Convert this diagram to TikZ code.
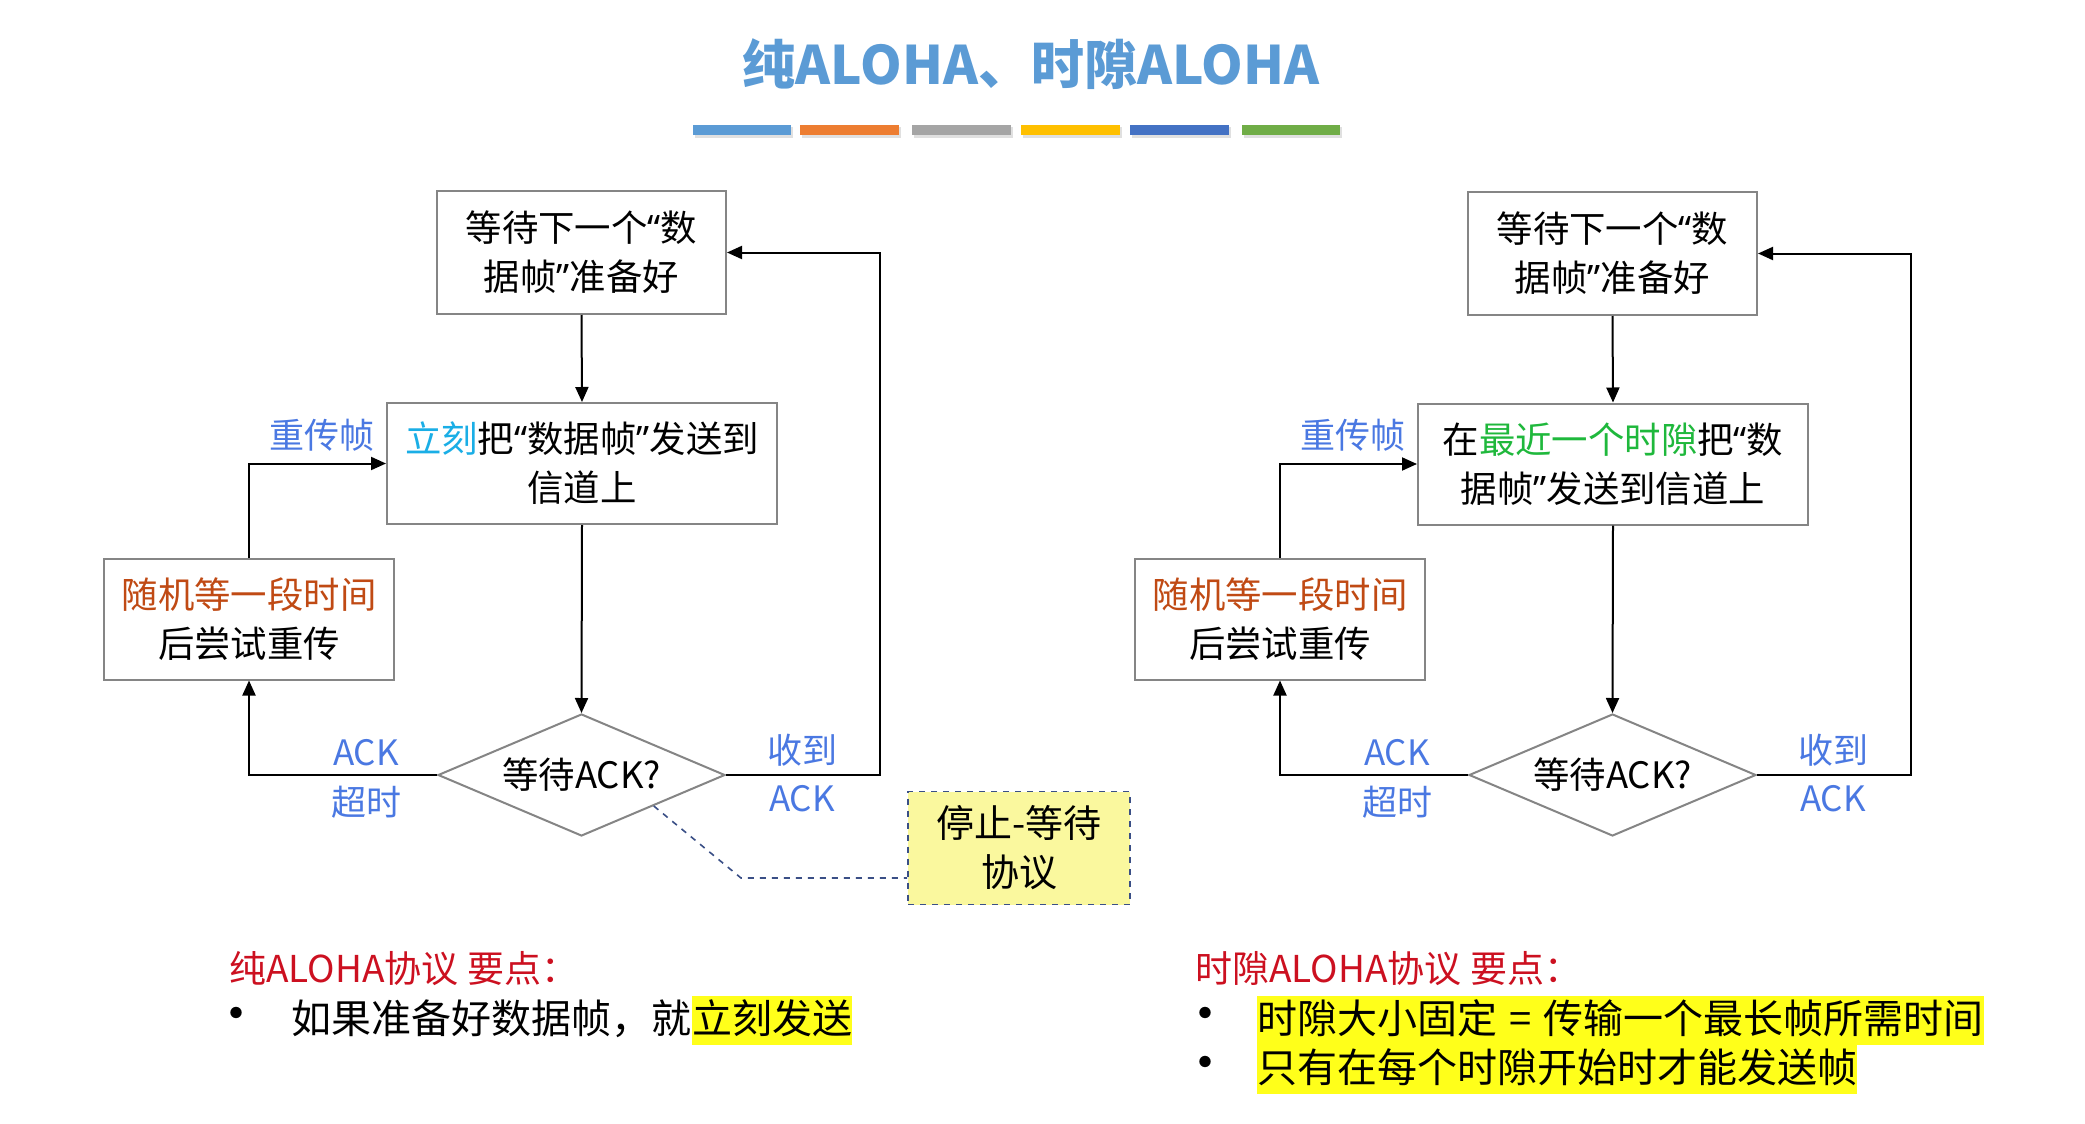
\documentclass[tikz,border=0pt]{standalone}
\usepackage{fontspec}
\setmainfont{Noto Sans CJK SC}
\newfontfamily\quotefont{Noto Sans}
\usetikzlibrary{shapes.geometric,arrows.meta}

\definecolor{titleblue}{HTML}{5B9BD5}
\definecolor{barorange}{HTML}{ED7D31}
\definecolor{bargray}{HTML}{A5A5A5}
\definecolor{baryellow}{HTML}{FFC000}
\definecolor{bardark}{HTML}{4472C4}
\definecolor{bargreen}{HTML}{70AD47}
\definecolor{lblblue}{HTML}{4A78E2}
\definecolor{nowcyan}{HTML}{1AAEE6}
\definecolor{waitred}{HTML}{C04A14}
\definecolor{slotgreen}{HTML}{1FB83C}
\definecolor{headred}{HTML}{CC1020}
\definecolor{boxgray}{HTML}{858585}
\definecolor{notefill}{HTML}{FAF89E}
\definecolor{noteedge}{HTML}{3A4F86}
\definecolor{markyellow}{HTML}{FFFF1A}

\newcommand\flowfont{\fontsize{18.2pt}{24.5pt}\selectfont}
\newcommand\lblfont{\fontsize{17.5pt}{24.5pt}\selectfont}
\newcommand\notefont{\fontsize{19pt}{24.5pt}\selectfont}
\newcommand\headfont{\fontsize{18.5pt}{22pt}\selectfont}
\newcommand\ptfont{\fontsize{20pt}{24pt}\selectfont}
% narrow curly quotes taken from a Latin face
\newcommand\oqt{{\quotefont “}}
\newcommand\cqt{{\quotefont ”}}

\tikzset{
  stepbox/.style={draw=boxgray, line width=1pt, fill=white, align=center,
    inner sep=0pt, font=\flowfont},
  waitbox/.style={stepbox, minimum width=144.5pt, minimum height=61.5pt},
  sendbox/.style={stepbox, minimum width=195pt, minimum height=60.5pt},
  retrybox/.style={stepbox, minimum width=145pt, minimum height=60.5pt},
  decide/.style={diamond, draw=boxgray, line width=1pt, fill=white,
    minimum width=143.5pt, minimum height=61pt, inner sep=0pt},
  flow/.style={draw=black, line width=1pt, -{Triangle[length=7.5pt,width=6.5pt]}},
  lbl/.style={text=lblblue, font=\lblfont, inner sep=0pt},
  note/.style={draw=noteedge, dashed, line width=0.9pt, fill=notefill,
    minimum width=111pt, minimum height=56.5pt, align=center, font=\notefont,
    inner sep=0pt},
  notelink/.style={draw=noteedge, dashed, line width=0.8pt},
  head/.style={text=headred, font=\headfont, inner sep=0pt, anchor=west},
  dot/.style={font=\fontsize{27pt}{27pt}\selectfont, inner sep=0pt},
  pt/.style={font=\ptfont, inner xsep=0pt, inner ysep=1.75pt,
    text height=17pt, text depth=4pt, anchor=west},
  hilite/.style={pt, fill=markyellow},
}

\begin{document}
\begin{tikzpicture}[x=0.5pt,y=-0.5pt]
\fill[white] (0,0) rectangle (2085,1124);
\useasboundingbox (0,0) rectangle (2085,1124);

% heading
\node[text=titleblue, font=\fontsize{26.5pt}{30pt}\selectfont\bfseries]
  (title) at (1031,64) {纯ALOHA、时隙ALOHA};

% coloured rule under the heading
\foreach \xa/\xb/\c in {693/791/titleblue, 800/899/barorange, 912/1011/bargray,
    1021/1120/baryellow, 1130/1229/bardark, 1242/1340/bargreen}{
  \fill[black!12] (\xa+2,127) rectangle (\xb+2,138);
  \fill[\c] (\xa,125) rectangle (\xb,135);
}

% ---------- pure ALOHA ----------
\node[waitbox] (la) at (581.5,252.5) {等待下一个\oqt 数\\据帧\cqt 准备好};
\node[sendbox] (lb) at (582,463.5) {\textcolor{nowcyan}{立刻}把\oqt 数据帧\cqt 发送到\\信道上};
\node[retrybox] (lc) at (249,619) {\textcolor{waitred}{随机等一段时间}\\后尝试重传};
\node[decide] (ld) at (581.5,775) {};
\node[font=\flowfont, inner sep=0pt] (ldt) at (ld.center) {等待ACK?};
\coordinate (lfb) at (880,0);

\draw[flow] (la.south) -- (lb.north);
\draw[flow] (lb.south) -- (ld.north);
\draw[flow] (ld.west) -| (lc.south);
\draw[flow] (lc.north) |- (lb.west);
\draw[flow] (ld.east) -- (ld.east -| lfb) |- (la.east);

\node[lbl] (lre) at (322,435) {重传帧};
\node[lbl] (lto1) at (366,753) {ACK};
\node[lbl] (lto2) at (366,802) {超时};
\node[lbl] (lok1) at (802,750) {收到};
\node[lbl] (lok2) at (802,799) {ACK};

\node[note] (lnote) at (1019,848) {停止-等待\\协议};
\coordinate (lknee) at (741,878);
\draw[notelink] (ld.south east) -- (lknee) -- (lknee -| lnote.west);

% ---------- slotted ALOHA ----------
\node[waitbox] (ra) at (1612.5,253.5) {等待下一个\oqt 数\\据帧\cqt 准备好};
\node[sendbox] (rb) at (1613,464) {在\textcolor{slotgreen}{最近一个时隙}把\oqt 数\\据帧\cqt 发送到信道上};
\node[retrybox] (rc) at (1280,619) {\textcolor{waitred}{随机等一段时间}\\后尝试重传};
\node[decide] (rd) at (1612.5,775) {};
\node[font=\flowfont, inner sep=0pt] (rdt) at (rd.center) {等待ACK?};
\coordinate (rfb) at (1911,0);

\draw[flow] (ra.south) -- (rb.north);
\draw[flow] (rb.south) -- (rd.north);
\draw[flow] (rd.west) -| (rc.south);
\draw[flow] (rc.north) |- (rb.west);
\draw[flow] (rd.east) -- (rd.east -| rfb) |- (ra.east);

\node[lbl] (rre) at (1353,435) {重传帧};
\node[lbl] (rto1) at (1397,753) {ACK};
\node[lbl] (rto2) at (1397,802) {超时};
\node[lbl] (rok1) at (1833,750) {收到};
\node[lbl] (rok2) at (1833,799) {ACK};

% ---------- key points ----------
\node[head] (lhead) at (229,969) {纯ALOHA协议 要点：};
\node[dot] (ldot1) at (236,1020) {•};
\node[pt] (lp1) at (291,1020) {如果准备好数据帧，就};
\node[hilite] (lp1m) at (lp1.east) {立刻发送};

\node[head] (rhead) at (1195,969) {时隙ALOHA协议 要点：};
\node[dot] (rdot1) at (1205,1020) {•};
\node[dot] (rdot2) at (1205,1069) {•};
\node[hilite] (rp1) at (1257,1020) {时隙大小固定\hspace{0.3em}=\hspace{0.3em}传输一个最长帧所需时间};
\node[hilite] (rp2) at (1257,1069) {只有在每个时隙开始时才能发送帧};
\end{tikzpicture}
\end{document}
